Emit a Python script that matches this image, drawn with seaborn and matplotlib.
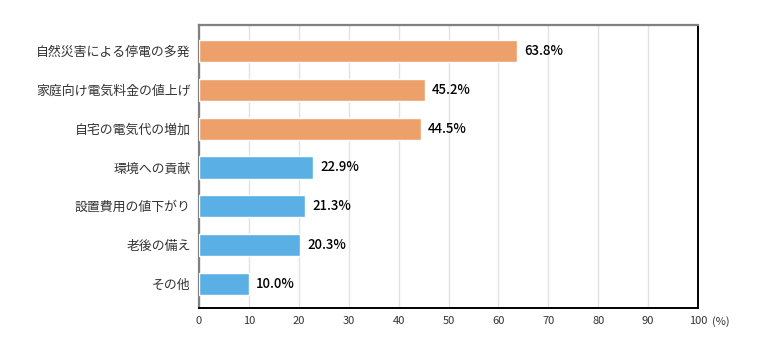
import matplotlib
matplotlib.use("Agg")
import matplotlib.pyplot as plt
import seaborn as sns
import pandas as pd

categories = ["自然災害による停電の多発", "家庭向け電気料金の値上げ", "自宅の電気代の増加",
              "環境への貢献", "設置費用の値下がり", "老後の備え", "その他"]
values = [63.8, 45.2, 44.5, 22.9, 21.3, 20.3, 10.0]
groups = ["A", "A", "A", "B", "B", "B", "B"]
palette = {"A": "#EDA06A", "B": "#5AAFE4"}
xticks = [0, 10, 20, 30, 40, 50, 60, 70, 80, 90, 100]

sns.set_theme(style="white")
plt.rcParams['font.family'] = ['Noto Sans CJK JP', 'DejaVu Sans']

df = pd.DataFrame({"cat": categories, "val": values, "grp": groups})

fig = plt.figure(figsize=(7.6, 3.6), dpi=100)
ax = fig.add_axes([199/760, 1-308/360, (698-199)/760, (308-25)/360])

sns.barplot(data=df, y="cat", x="val", hue="grp", palette=palette, orient="h",
            width=0.57, dodge=False, legend=False, ax=ax, saturation=1, zorder=3)

for i, v in enumerate(values):
    ax.text(v + 1.4, i, f"{v:.1f}%", va="center", ha="left", fontsize=9.5,
            color="#000000", fontweight="medium", zorder=4)

ax.set_xlim(0, 100)
ax.set_ylim(6.62, -0.67)
ax.set_xticks(xticks)
ax.set_xticklabels([str(t) for t in xticks], fontsize=8, color="#333333")
ax.tick_params(axis="x", length=0, pad=6)
ax.tick_params(axis="y", length=0, pad=6, labelsize=9.3, labelcolor="#333333")
ax.set_xlabel("")
ax.set_ylabel("")
ax.grid(axis="x", color="#E2E2E2", linewidth=1, zorder=0)
ax.set_axisbelow(True)

for s in ["left", "top"]:
    ax.spines[s].set_color("#808080")
    ax.spines[s].set_linewidth(1.6)
for s in ["right", "bottom"]:
    ax.spines[s].set_color("#000000")
    ax.spines[s].set_linewidth(1.4)

ax.annotate("(%)", xy=(1, 0), xycoords="axes fraction", xytext=(10, -6),
            textcoords="offset points", fontsize=8, color="#333333",
            ha="left", va="top")

fig.savefig("out.png", dpi=100)
